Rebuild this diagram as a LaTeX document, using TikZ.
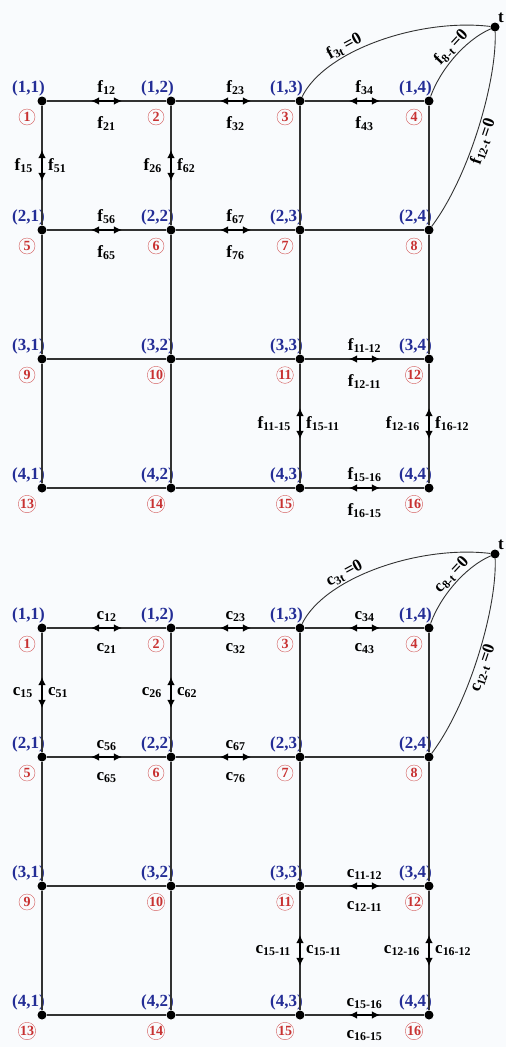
\documentclass[tikz,border=0pt]{standalone}
\usepackage{fontspec}
\setmainfont{Liberation Serif}
\usepackage{tikz}
\usetikzlibrary{calc,positioning,arrows.meta}

\definecolor{idxblue}{RGB}{35,45,150}
\definecolor{numred}{RGB}{200,50,50}
\definecolor{gridgray}{RGB}{50,50,50}
\definecolor{paper}{RGB}{249,251,253}

\begin{document}
\begin{tikzpicture}[
    x=1pt, y=-1pt,
    font=\fontsize{17}{19}\selectfont\bfseries,
    >={Latex[length=8pt,width=7.5pt]},
    dot/.style={circle, fill=black, inner sep=0pt, minimum size=9pt},
    idx/.style={text=idxblue, inner sep=0pt, anchor=south east},
    num/.style={circle, draw=numred!80, text=numred, inner sep=0.2pt,
                minimum size=16pt, font=\fontsize{14}{14}\selectfont\bfseries},
    edge/.style={draw=gridgray, line width=1.4pt},
    flow/.style={<->, line width=1.4pt},
    arc/.style={draw=gridgray, line width=0.9pt},
    lbl/.style={inner sep=1pt}
  ]
    \fill[paper] (0,0) rectangle (506,1047);
    \useasboundingbox (0,0) rectangle (506,1047);

    % two 4x4 grids: flows f (top) and costs c (bottom)
    \foreach \sym/\dy/\lft in {f/0/11-15, c/527/15-11} {
      \begin{scope}[shift={(0,\dy)}]
        \foreach \r in {1,...,4} {
          \foreach \c in {1,...,4} {
            \pgfmathtruncatemacro{\k}{4*(\r-1)+\c}
            \node[dot] (\sym\k) at ({42+129*(\c-1)}, {101+129*(\r-1)}) {};
            \node[idx] at ([xshift=3pt, yshift=5pt]\sym\k) {(\r,\c)};
            \node[num] at ([xshift=-15pt, yshift=-16pt]\sym\k) {\k};
          }
        }
        \node[dot] (\sym t) at (495,27) {};
        \node[anchor=south west, inner sep=0pt] (\sym tl)
          at ([xshift=3pt, yshift=4pt]\sym t) {t};

        % grid edges
        \foreach \r in {0,...,3} {
          \foreach \c in {1,...,3} {
            \pgfmathtruncatemacro{\a}{4*\r+\c}
            \pgfmathtruncatemacro{\b}{\a+1}
            \draw[edge] (\sym\a) -- (\sym\b);
          }
        }
        \foreach \a in {1,...,12} {
          \pgfmathtruncatemacro{\b}{\a+4}
          \draw[edge] (\sym\a) -- (\sym\b);
        }

        % horizontal flows
        \foreach \a/\b/\ab/\ba in {1/2/12/21, 2/3/23/32, 3/4/34/43, 5/6/56/65,
            6/7/67/76, 11/12/11-12/12-11, 15/16/15-16/16-15} {
          \draw[flow] ($(\sym\a)!0.38!(\sym\b)$) -- ($(\sym\a)!0.62!(\sym\b)$);
          \node[lbl, above=5pt] at ($(\sym\a)!0.5!(\sym\b)$) {\sym\textsubscript{\ab}};
          \node[lbl, below=14pt] at ($(\sym\a)!0.5!(\sym\b)$) {\sym\textsubscript{\ba}};
        }
        % vertical flows
        \foreach \a/\b/\ab/\ba in {1/5/15/51, 2/6/26/62, 11/15/\lft/15-11,
            12/16/12-16/16-12} {
          \draw[flow] ($(\sym\a)!0.38!(\sym\b)$) -- ($(\sym\a)!0.62!(\sym\b)$);
          \node[lbl, left=8pt] at ($(\sym\a)!0.5!(\sym\b)$) {\sym\textsubscript{\ab}};
          \node[lbl, right=5pt] at ($(\sym\a)!0.5!(\sym\b)$) {\sym\textsubscript{\ba}};
        }

        % arcs to t
        \draw[arc] (\sym3) .. controls (325,50) and (420,18) .. (\sym t)
          node[lbl, pos=0.35, sloped, above] {\sym\textsubscript{3t}\,=0};
        \draw[arc] (\sym4) .. controls (440,70) and (465,40) .. (\sym t)
          node[lbl, pos=0.55, sloped, above] {\sym\textsubscript{8-t}\,=0};
        \draw[arc] (\sym8) .. controls (470,175) and (497,80) .. (\sym t)
          node[lbl, pos=0.45, sloped, below] {\sym\textsubscript{12-t}\,=0};
      \end{scope}
    }
  \end{tikzpicture}
\end{document}
